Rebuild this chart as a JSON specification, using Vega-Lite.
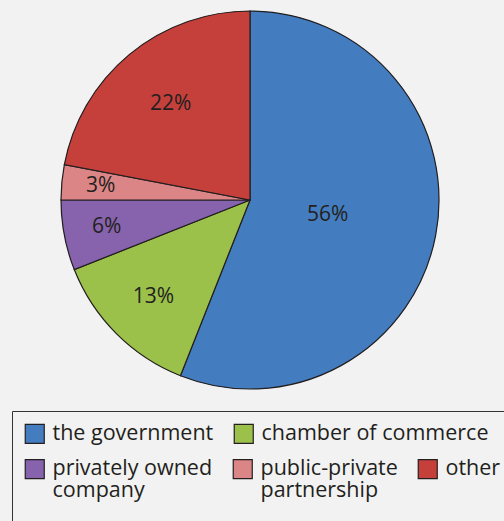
{
  "$schema": "https://vega.github.io/schema/vega-lite/v6.json",
  "width": 500,
  "height": 400,
  "padding": 0,
  "background": "#f2f2f2",
  "config": {
    "view": {"stroke": null},
    "font": "Open Sans",
    "legend": {
      "symbolType": "square",
      "symbolSize": 361,
      "symbolStrokeColor": "#231f20",
      "symbolStrokeWidth": 1.2,
      "symbolOpacity": 1,
      "labelFont": "Open Sans",
      "labelFontSize": 21.5,
      "labelColor": "#231f20",
      "labelOffset": 7,
      "labelLimit": 400,
      "columnPadding": 17
    }
  },
  "data": {"values": [
    {"source": "the government", "share": 0.56},
    {"source": "chamber of commerce", "share": 0.13},
    {"source": "privately owned company", "share": 0.06},
    {"source": "public-private partnership", "share": 0.03},
    {"source": "other", "share": 0.22}
  ]},
  "transform": [{"window": [{"op": "row_number", "as": "idx"}]}],
  "encoding": {
    "theta": {"field": "share", "type": "quantitative", "stack": true},
    "order": {"field": "idx", "type": "quantitative"}
  },
  "layer": [
    {
      "mark": {"type": "arc", "outerRadius": 189},
      "encoding": {
        "color": {
          "field": "source",
          "type": "nominal",
          "scale": {
            "domain": ["the government", "chamber of commerce", "privately owned company", "public-private partnership", "other"],
            "range": ["#437dbf", "#9cc14b", "#8663ac", "#dc8586", "#c5403b"]
          },
          "legend": {
            "orient": "none",
            "direction": "horizontal",
            "legendX": 12,
            "legendY": 411,
            "values": ["the government", "chamber of commerce", "other"],
            "title": null,
            "padding": 12,
            "strokeColor": "#333333",
            "labelExpr": "datum.label == 'the government' ? ['the government', ' ', ' ', ' '] : datum.label == 'chamber of commerce' ? ['chamber of commerce', ' ', ' ', ' '] : [' ', ' ', ' ', ' ']",
            "encode": {
              "symbols": {"update": {"opacity": {"signal": "datum.value == 'other' ? 0 : 1"}}}
            }
          }
        }
      }
    },
    {
      "mark": {"type": "arc", "outerRadius": 189, "stroke": "#231f20", "strokeWidth": 1.2},
      "encoding": {
        "fill": {
          "field": "source",
          "type": "nominal",
          "scale": {
            "domain": ["privately owned company", "public-private partnership", "other", "the government", "chamber of commerce"],
            "range": ["#8663ac", "#dc8586", "#c5403b", "#437dbf", "#9cc14b"]
          },
          "legend": {
            "orient": "none",
            "direction": "horizontal",
            "legendX": 24,
            "legendY": 458,
            "values": ["privately owned company", "public-private partnership", "other"],
            "title": null,
            "padding": 0,
            "labelExpr": "datum.label == 'privately owned company' ? ['privately owned', 'company'] : datum.label == 'public-private partnership' ? ['public-private', 'partnership'] : ['other', ' ']",
            "encode": {
              "labels": {"update": {"lineHeight": {"value": 22}}}
            }
          }
        }
      }
    },
    {
      "mark": {"type": "text", "font": "Open Sans", "fontSize": 21, "fill": "#231f20", "align": "center", "baseline": "middle"},
      "encoding": {
        "text": {"field": "share", "type": "quantitative", "format": ".0%"},
        "radius": {"field": "share", "type": "quantitative", "scale": {"type": "linear", "domain": [0.03, 0.56], "range": [150, 79]}}
      }
    }
  ]
}
